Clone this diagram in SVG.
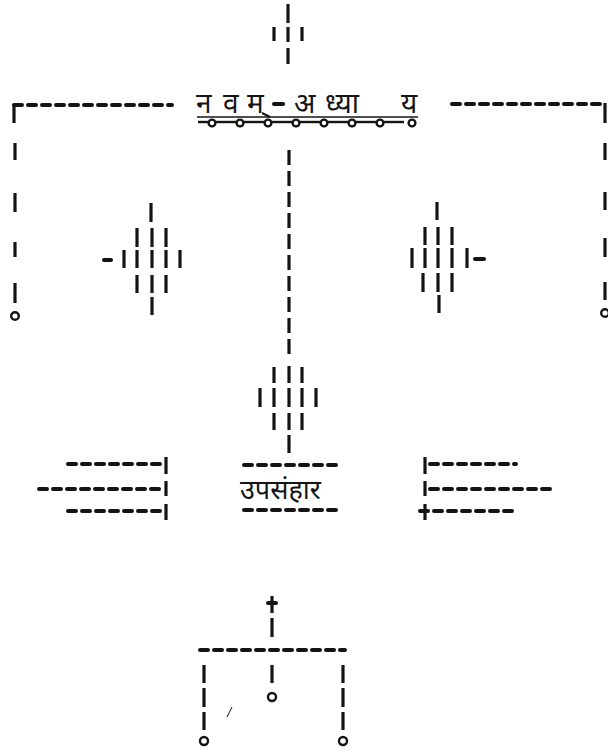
<svg xmlns="http://www.w3.org/2000/svg" width="608" height="756" viewBox="0 0 608 756">
<defs>
<style>
.v{stroke:#141414;stroke-width:3.2;fill:none}
.h{stroke:#141414;stroke-width:4;fill:none;stroke-dasharray:8 6;stroke-linecap:round}
.hs{stroke:#141414;stroke-width:4;fill:none;stroke-linecap:round}
.o{stroke:#141414;stroke-width:2.4;fill:none}
.t{font-family:"Noto Sans Devanagari","Noto Serif Devanagari","Lohit Devanagari","Mangal","Noto Sans",sans-serif;fill:#141414}
</style>
</defs>
<rect width="608" height="756" fill="#fff"/>

<g id="top-ornament">
<line class="v" x1="288" y1="4" x2="288" y2="23"/>
<line class="v" x1="274" y1="27" x2="274" y2="41"/>
<line class="v" x1="288" y1="27" x2="288" y2="42"/>
<line class="v" x1="302" y1="27" x2="302" y2="41"/>
<line class="v" x1="288" y1="48" x2="288" y2="64"/>
</g>

<g id="title">
<text class="t" font-size="28" y="113"><tspan x="196">न</tspan><tspan x="223">व</tspan><tspan x="247">म</tspan></text>
<line class="hs" x1="274" y1="104" x2="283" y2="104"/>
<text class="t" font-size="28" y="113"><tspan x="294">अ</tspan><tspan x="325">ध्या</tspan><tspan x="401">य</tspan></text>
<line x1="262" y1="113" x2="270" y2="117" stroke="#141414" stroke-width="2"/>
<line x1="197" y1="117" x2="418" y2="117" stroke="#141414" stroke-width="1.6"/>
<path class="o" d="M198 122 L208 122"/>
<circle class="o" cx="212" cy="123" r="3.4"/>
<path class="o" d="M216 122 L236 122"/>
<circle class="o" cx="240" cy="123" r="3.4"/>
<path class="o" d="M244 122 L264 122"/>
<circle class="o" cx="268" cy="123" r="3.4"/>
<path class="o" d="M272 122 L292 122"/>
<circle class="o" cx="296" cy="123" r="3.4"/>
<path class="o" d="M300 122 L320 122"/>
<circle class="o" cx="324" cy="123" r="3.4"/>
<path class="o" d="M328 122 L348 122"/>
<circle class="o" cx="352" cy="123" r="3.4"/>
<path class="o" d="M356 122 L376 122"/>
<circle class="o" cx="380" cy="123" r="3.4"/>
<path class="o" d="M384 122 L404 122"/>
<circle class="o" cx="412" cy="123" r="3.4"/>
</g>

<g id="left-column">
<line class="h" x1="14" y1="105" x2="172" y2="105"/>
<line class="v" x1="14" y1="104" x2="14" y2="123"/>
<line class="v" x1="15" y1="143" x2="15" y2="160"/>
<line class="v" x1="15" y1="193" x2="15" y2="212"/>
<line class="v" x1="15" y1="242" x2="15" y2="257"/>
<line class="v" x1="15" y1="283" x2="15" y2="303"/>
<circle class="o" cx="15" cy="316" r="3.8"/>
</g>

<g id="right-column">
<line class="h" x1="452" y1="104" x2="602" y2="104"/>
<line class="v" x1="605" y1="103" x2="605" y2="123"/>
<line class="v" x1="605" y1="143" x2="605" y2="160"/>
<line class="v" x1="605" y1="192" x2="605" y2="210"/>
<line class="v" x1="605" y1="238" x2="605" y2="257"/>
<line class="v" x1="605" y1="282" x2="605" y2="300"/>
<circle class="o" cx="605" cy="313" r="3.8"/>
</g>

<g id="left-diamond">
<line class="v" x1="151" y1="203" x2="151" y2="222"/>
<line class="v" x1="137" y1="228" x2="137" y2="247"/>
<line class="v" x1="152" y1="228" x2="152" y2="247"/>
<line class="v" x1="166" y1="228" x2="166" y2="247"/>
<line class="hs" x1="104" y1="260" x2="111" y2="260"/>
<line class="v" x1="124" y1="250" x2="124" y2="268"/>
<line class="v" x1="137" y1="250" x2="137" y2="268"/>
<line class="v" x1="152" y1="250" x2="152" y2="268"/>
<line class="v" x1="166" y1="250" x2="166" y2="268"/>
<line class="v" x1="180" y1="250" x2="180" y2="268"/>
<line class="v" x1="137" y1="275" x2="137" y2="293"/>
<line class="v" x1="152" y1="275" x2="152" y2="293"/>
<line class="v" x1="166" y1="275" x2="166" y2="293"/>
<line class="v" x1="152" y1="297" x2="152" y2="315"/>
</g>

<g id="right-diamond">
<line class="v" x1="437" y1="202" x2="437" y2="220"/>
<line class="v" x1="425" y1="227" x2="425" y2="245"/>
<line class="v" x1="438" y1="227" x2="438" y2="245"/>
<line class="v" x1="452" y1="227" x2="452" y2="245"/>
<line class="v" x1="412" y1="248" x2="412" y2="268"/>
<line class="v" x1="425" y1="248" x2="425" y2="268"/>
<line class="v" x1="438" y1="248" x2="438" y2="268"/>
<line class="v" x1="452" y1="248" x2="452" y2="268"/>
<line class="v" x1="467" y1="248" x2="467" y2="268"/>
<line class="hs" x1="475" y1="259" x2="484" y2="259"/>
<line class="v" x1="423" y1="273" x2="423" y2="292"/>
<line class="v" x1="438" y1="273" x2="438" y2="292"/>
<line class="v" x1="452" y1="273" x2="452" y2="292"/>
<line class="v" x1="439" y1="295" x2="439" y2="313"/>
</g>

<g id="center-stem">
<line class="v" x1="289" y1="150" x2="289" y2="360" stroke-dasharray="15 6"/>
<line class="v" x1="274" y1="367" x2="274" y2="383"/>
<line class="v" x1="289" y1="366" x2="289" y2="383"/>
<line class="v" x1="302" y1="367" x2="302" y2="383"/>
<line class="v" x1="260" y1="388" x2="260" y2="407"/>
<line class="v" x1="274" y1="388" x2="274" y2="407"/>
<line class="v" x1="289" y1="388" x2="289" y2="407"/>
<line class="v" x1="302" y1="388" x2="302" y2="407"/>
<line class="v" x1="316" y1="388" x2="316" y2="407"/>
<line class="v" x1="274" y1="413" x2="274" y2="430"/>
<line class="v" x1="289" y1="413" x2="289" y2="430"/>
<line class="v" x1="302" y1="413" x2="302" y2="430"/>
<line class="v" x1="289" y1="435" x2="289" y2="453"/>
</g>

<g id="conclusion">
<line class="h" x1="244" y1="465" x2="336" y2="465"/>
<text class="t" font-size="27" x="240" y="499">उपसंहार</text>
<line class="h" x1="244" y1="510" x2="336" y2="510"/>
</g>

<g id="left-lines">
<line class="h" x1="68" y1="464" x2="162" y2="464"/>
<line class="v" x1="166" y1="457" x2="166" y2="474"/>
<line class="h" x1="39" y1="489" x2="162" y2="489"/>
<line class="v" x1="166" y1="481" x2="166" y2="496"/>
<line class="h" x1="68" y1="511" x2="162" y2="511"/>
<line class="v" x1="166" y1="504" x2="166" y2="520"/>
</g>

<g id="right-lines">
<line class="v" x1="425" y1="457" x2="425" y2="474"/>
<line class="h" x1="430" y1="464" x2="516" y2="464"/>
<line class="v" x1="425" y1="481" x2="425" y2="496"/>
<line class="h" x1="430" y1="489" x2="556" y2="489"/>
<line class="v" x1="425" y1="504" x2="425" y2="520"/>
<line class="h" x1="420" y1="511" x2="514" y2="511"/>
</g>

<g id="bottom-ornament">
<line class="v" x1="272" y1="596" x2="272" y2="613"/>
<line class="hs" x1="268" y1="603" x2="276" y2="603"/>
<line class="v" x1="272" y1="618" x2="272" y2="637"/>
<line class="h" x1="200" y1="650" x2="345" y2="650"/>
<line class="v" x1="204" y1="665" x2="204" y2="683"/>
<line class="v" x1="204" y1="688" x2="204" y2="707"/>
<line class="v" x1="204" y1="712" x2="204" y2="730"/>
<circle class="o" cx="204" cy="741" r="4"/>
<line class="v" x1="272" y1="665" x2="272" y2="683"/>
<circle class="o" cx="272" cy="697" r="4"/>
<line class="v" x1="343" y1="665" x2="343" y2="683"/>
<line class="v" x1="343" y1="688" x2="343" y2="707"/>
<line class="v" x1="343" y1="712" x2="343" y2="730"/>
<circle class="o" cx="343" cy="741" r="4"/>
<line x1="227" y1="717" x2="232" y2="707" stroke="#141414" stroke-width="1"/>
</g>
</svg>
